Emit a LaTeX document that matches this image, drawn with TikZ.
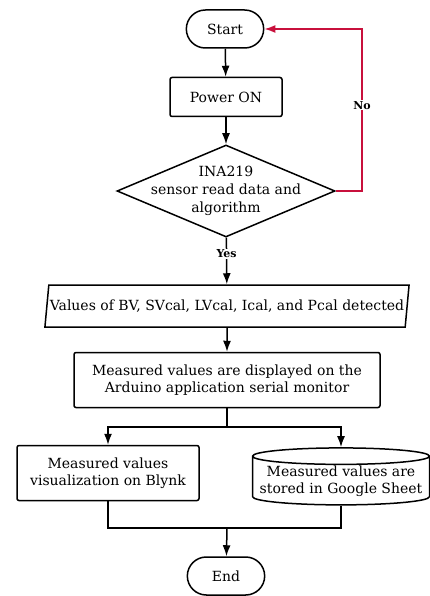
\documentclass[tikz,border=0pt]{standalone}
\usepackage{fontspec}
\setmainfont{DejaVu Serif}
\usetikzlibrary{arrows.meta,shapes.geometric,shapes.misc}
\definecolor{nored}{RGB}{200,16,60}

\begin{document}
\begin{tikzpicture}[x=1pt,y=-1pt,>={Latex[length=11pt,width=8pt]},font=\fontsize{14}{17}\selectfont,line width=1.5pt,
  term/.style={draw,rounded rectangle,minimum width=84,minimum height=38,fill=white},
  proc/.style={draw,rectangle,rounded corners=2pt,fill=white,align=center,inner sep=2pt},
  decide/.style={draw,diamond,minimum width=218,minimum height=92,inner sep=0pt,fill=white},
  inout/.style={draw,trapezium,trapezium left angle=75,trapezium right angle=105,
    trapezium stretches body,minimum width=360,minimum height=42,inner sep=1pt,fill=white},
  store/.style={draw,cylinder,shape border rotate=90,aspect=0.1,minimum width=177,
    inner xsep=1pt,inner ysep=1pt,align=center,fill=white},
  tag/.style={fill=white,inner sep=1pt,font=\fontsize{11}{13}\selectfont\bfseries}]
\useasboundingbox (0,0) rectangle (430,596);
% start and power
\node[term] (start) at (225,29) {Start};
\node[proc,minimum width=112,minimum height=39] (power) at (226,97) {Power ON};
% decision
\node[decide,label={[align=center,font=\fontsize{14}{18}\selectfont]center:INA219\\sensor read data and\\algorithm}] (read) at (226,191) {};
\coordinate (nocorner) at (362,29);
% detected values
\node[inout] (values) at (227,306) {Values of BV, SVcal, LVcal, Ical, and Pcal detected};
\node[proc,minimum width=306,minimum height=55] (monitor) at (227,380)
  {Measured values are displayed on the\\Arduino application serial monitor};
\coordinate (split) at (227,427);
% outputs
\node[proc,minimum width=182,minimum height=55] (blynk) at (108,473)
  {Measured values\\visualization on Blynk};
\node[store] (sheet) at (341,481.5) {Measured values are\\stored in Google Sheet};
\coordinate (merge) at (227,528);
\node[term] (end) at (226,576) {End};
% connectors
\draw[->] (start) -- (power);
\draw[->] (power) -- (read);
\draw[->,nored] (read.east) -| node[tag,text=black,pos=0.765]{No} (nocorner) -- (start.east);
\draw[->] (read) -- node[tag,pos=0.35]{Yes} (values);
\draw[->] (values) -- (monitor);
\draw (monitor) -- (split);
\draw[->] (split) -| (blynk);
\draw[->] (split) -| (sheet);
\draw (blynk) |- (merge);
\draw (sheet) |- (merge);
\draw[->] (merge) -- (end);
\end{tikzpicture}
\end{document}
